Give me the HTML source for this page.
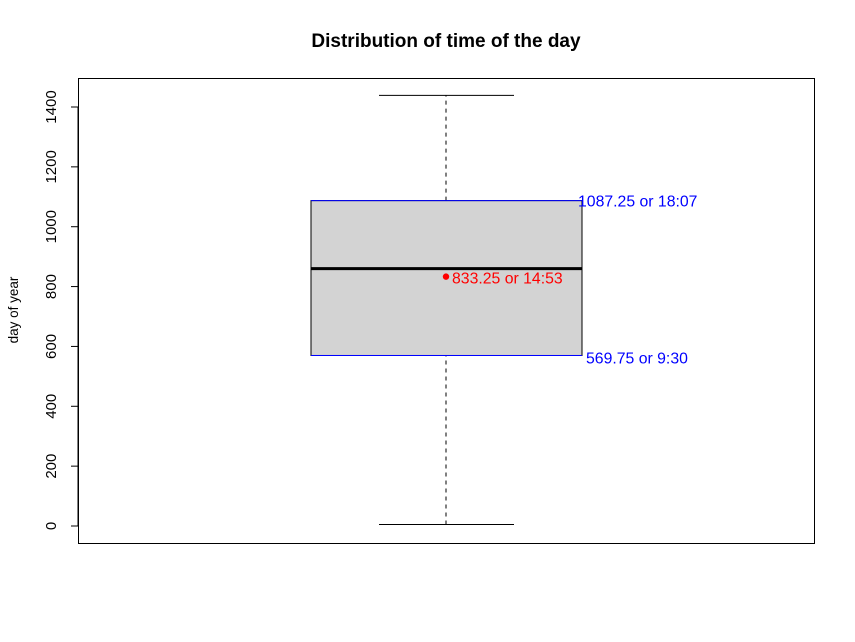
<!DOCTYPE html>
<html><head><meta charset="utf-8"><style>body{margin:0;background:#fff}svg{display:block;font-family:"Liberation Sans",Arial,sans-serif}</style></head>
<body>
<svg id="chart" width="855" height="642" viewBox="0 0 855 642" xmlns="http://www.w3.org/2000/svg">
<rect width="855" height="642" fill="#fff"/>
<text x="446" y="47" font-size="19" font-weight="bold" text-anchor="middle">Distribution of time of the day</text>
<text transform="translate(18,310) rotate(-90)" font-size="13.5" text-anchor="middle">day of year</text>
<rect x="78.5" y="78.5" width="736" height="465" fill="none" stroke="#000"/>
<g id="g"></g>
</svg>
<script>
const yTicks=[0,200,400,600,800,1000,1200,1400];
const stats=[5,569.75,860,1087.25,1439];
const meanVal=[833.25];
const labels=["1087.25 or 18:07","833.25 or 14:53","569.75 or 9:30"];
const NS="http://www.w3.org/2000/svg";
const g=document.getElementById('g');
function y(v){return 526-v*(419/1400);}
function mk(t,a,txt){const e=document.createElementNS(NS,t);for(const k in a)e.setAttribute(k,a[k]);if(txt!=null)e.textContent=txt;g.appendChild(e);return e;}
const ax=mk('line',{x1:78,x2:78,y1:y(yTicks[0]),y2:y(yTicks[yTicks.length-1]),stroke:'#000'});


yTicks.forEach(v=>{
 const t=mk('line',{x1:71,x2:78,y1:y(v),y2:y(v),stroke:'#000'});
 
 
 const l=mk('text',{transform:`translate(56,${y(v)}) rotate(-90)`,'font-size':15,'text-anchor':'middle'},String(v));
 
 
});
const cx=446,bl=311,br=582;
const w1=mk('line',{x1:cx,x2:cx,y1:y(stats[0]),y2:y(stats[1]),stroke:'#000','stroke-dasharray':'4,4'});


const w2=mk('line',{x1:cx,x2:cx,y1:y(stats[3]),y2:y(stats[4]),stroke:'#000','stroke-dasharray':'4,4'});


const c1=mk('line',{x1:379,x2:514,y1:y(stats[0]),y2:y(stats[0]),stroke:'#000'});


const c2=mk('line',{x1:379,x2:514,y1:y(stats[4]),y2:y(stats[4]),stroke:'#000'});


const box=mk('rect',{x:bl,y:y(stats[3]),width:br-bl,height:y(stats[1])-y(stats[3]),fill:'#d3d3d3',stroke:'#000'});


const q3=mk('line',{x1:bl,x2:br,y1:y(stats[3]),y2:y(stats[3]),stroke:'#00f'});


const q1=mk('line',{x1:bl,x2:br,y1:y(stats[1]),y2:y(stats[1]),stroke:'#00f'});


const md=mk('line',{x1:bl,x2:br,y1:y(stats[2]),y2:y(stats[2]),stroke:'#000','stroke-width':3});


const mp=mk('circle',{cx:cx,cy:y(meanVal[0]),r:3.2,fill:'#f00'});


const t1=mk('text',{x:578,y:y(stats[3])+6,'font-size':15.8,fill:'#00f'},labels[0]);


const t2=mk('text',{x:452,y:y(meanVal[0])+7,'font-size':15.8,fill:'#f00'},labels[1]);


const t3=mk('text',{x:586,y:y(stats[1])+8,'font-size':15.8,fill:'#00f'},labels[2]);


</script>
</body></html>
